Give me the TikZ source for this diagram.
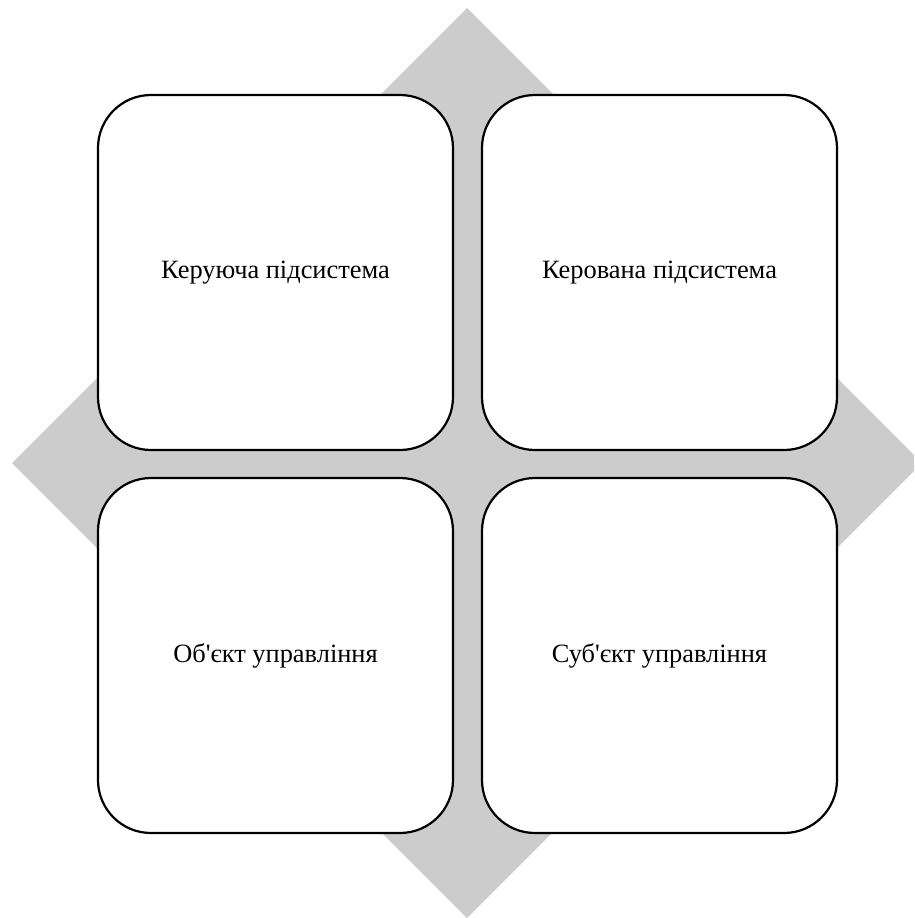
\documentclass[tikz,border=0pt]{standalone}
\usepackage{fontspec}
\setmainfont{Liberation Serif}[Ligatures=TeXOff]
\definecolor{diam}{RGB}{204,204,204}
\begin{document}
\begin{tikzpicture}[x=1pt,y=-1pt,
  quad/.style={draw=black,line width=2.2pt,fill=white,rounded corners=53pt,
    minimum width=355pt,minimum height=355pt,inner sep=0pt,
    font=\fontsize{26.4}{30}\selectfont}]
\useasboundingbox (0,0) rectangle (914,918);
\begin{scope}
\clip (0,0) rectangle (914,918);
\fill[diam] (467,8) -- (922,463) -- (467,918) -- (12,463) -- cycle;
\end{scope}
\node[quad] (tl) at (275.5,272.5) {Керуюча підсистема};
\node[quad] (tr) at (659.5,272.5) {Керована підсистема};
\node[quad] (bl) at (275.5,655.5) {Об'єкт управління};
\node[quad] (br) at (659.5,655.5) {Суб'єкт управління};
\end{tikzpicture}
\end{document}
